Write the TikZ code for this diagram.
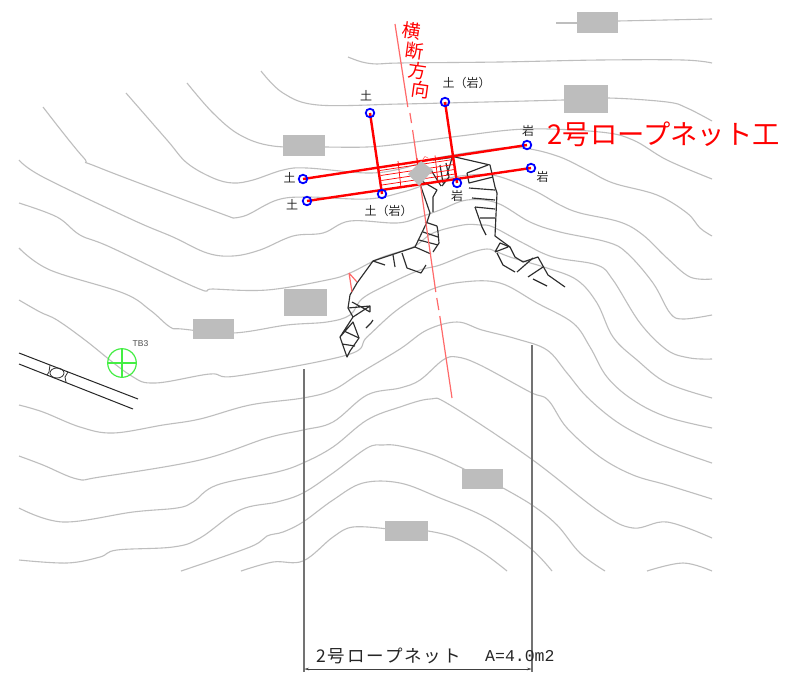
\documentclass[tikz,border=0pt]{standalone}
\usepackage{fontspec}
\newfontfamily\jp{Noto Sans CJK JP}
\newfontfamily\jpw[LetterSpace=11]{Noto Sans CJK JP}
\newfontfamily\monof{Liberation Mono}
\newfontfamily\sansf{Liberation Sans}
\usetikzlibrary{arrows.meta}
\definecolor{cont}{HTML}{BEBEBE}
\definecolor{boxg}{HTML}{BDBDBD}
\definecolor{secred}{HTML}{FF6A6A}
\definecolor{rock}{HTML}{2E2E2E}
\definecolor{tbgreen}{HTML}{44EE44}
\tikzset{
 contour/.style={draw=cont,line width=1.1pt},
 hut/.style={fill=boxg,draw=none},
 rope/.style={draw=red,line width=2.4pt},
 netfine/.style={draw=red,line width=0.7pt},
 ring/.style={circle,draw=blue,line width=1.8pt,minimum size=8.5pt,inner sep=0pt},
 secline/.style={draw=secred,line width=1.2pt},
 rockl/.style={draw=rock,line width=1.15pt,line join=round},
 smalljp/.style={font=\jp\fontsize{12}{12}\selectfont,text=black!85,inner sep=0pt},
 vert/.style={font=\jp\fontsize{18.5}{18.5}\selectfont,text=red,inner sep=0pt,rotate=-8},
 guide/.style={draw=black!55,line width=1.4pt},
}
\newcommand{\ctr}[1]{\draw[contour] plot[smooth,tension=0.6] coordinates {#1};}
\begin{document}
\begin{tikzpicture}[x=1pt,y=-1pt]
\useasboundingbox (0,0) rectangle (795,675);
\fill[white] (0,0) rectangle (795,675);
% contours
\draw[contour] (556,23) -- (577,23);
\draw[contour] (618,21) -- (712,19);
\ctr{(348,57)(362,62)(377,64)(400,63)(500,62)(600,60)(683,60)(712,63)}
\ctr{(261,71)(283,93)(318,105)(400,104)(445,103)(563,100)(608,98)(667,102)(687,108)(712,121)}
\ctr{(187,83)(213,113)(240,135)(273,146)(325,147)(367,147)(400,144)(460,136)(527,129)(600,132)(633,140)(667,160)(712,179)}
\ctr{(126,93)(167,140)(187,163)(213,178)(233,183)(253,180)(283,170)(307,168)(367,173)(400,169)(430,160)(453,155)(503,148)(530,149)(560,157)(587,170)(613,183)(657,195)(687,213)(700,228)(712,236)}
\draw[contour] plot[smooth,tension=0.6] coordinates {(43,107)(83,157)(100,168)(233,218)};
\ctr{(233,218)(247,215)(277,200)(307,197)(367,199)(403,192)(440,180)(470,175)(497,176)(533,190)(560,205)(580,213)(620,222)(643,235)(667,258)(690,277)(712,279)}
\ctr{(19,160)(43,177)(133,220)(173,237)(207,253)(233,256)(260,250)(293,236)(323,233)(350,221)(397,223)(420,217)(440,210)(467,200)(497,203)(530,222)(560,232)(607,242)(627,253)(653,283)(670,313)(683,319)(712,315)}
\ctr{(19,203)(57,217)(80,235)(110,247)(197,288)(213,289)(267,290)(327,280)(350,273)(380,258)(413,247)(433,233)(463,225)(480,225)(493,227)(523,243)(553,257)(597,265)(613,280)(640,323)(667,350)(690,358)(712,359)}
\ctr{(19,248)(50,270)(123,293)(150,310)(170,327)(182,329)(233,333)(287,325)(327,322)(350,315)(363,298)(393,282)(420,270)(440,265)(470,253)(487,249)(497,252)(513,258)(547,268)(577,280)(597,303)(613,337)(637,360)(667,383)(712,398)}
\ctr{(19,300)(40,312)(57,320)(85,340)(130,375)(155,383)(210,374)(237,376)(347,355)(367,337)(397,310)(430,290)(463,282)(500,283)(537,303)(573,323)(590,347)(607,377)(633,400)(667,417)(712,428)}
\ctr{(19,405)(43,412)(80,427)(113,433)(163,425)(200,419)(250,405)(303,398)(333,390)(360,373)(400,349)(427,330)(457,322)(482,330)(517,339)(547,350)(567,373)(587,397)(617,422)(650,440)(683,453)(712,463)}
\ctr{(19,456)(43,465)(77,479)(100,477)(200,460)(267,438)(303,430)(333,422)(367,395)(400,388)(420,380)(443,360)(457,357)(480,365)(530,392)(548,400)(567,428)(600,457)(633,475)(667,485)(712,499)}
\ctr{(19,508)(63,522)(133,512)(177,508)(193,502)(217,485)(277,472)(303,463)(333,447)(367,420)(400,407)(430,399)(450,405)(530,458)(600,512)(633,528)(667,522)(712,538)}
\ctr{(19,560)(67,563)(100,557)(117,550)(173,547)(200,538)(240,510)(277,502)(303,493)(333,473)(367,448)(383,445)(400,446)(433,455)(470,472)}
\ctr{(503,488)(532,505)(557,525)(580,553)(605,571)}
\ctr{(181,571)(250,547)(267,536)(283,532)(303,522)(333,500)(363,483)(400,483)(440,498)(487,518)(530,548)(552,571)}
\ctr{(241,571)(273,562)(303,561)(333,537)(353,527)(388,529)}
\ctr{(428,531)(453,537)(483,553)(507,571)}
\ctr{(647,571)(683,563)(712,571)}
% houses
\fill[hut] (283,135) rectangle (325,156);
\fill[hut] (193,319) rectangle (234,339);
\fill[hut] (284,289) rectangle (327,316);
\fill[hut] (564,85) rectangle (608,113);
\fill[hut] (577,12) rectangle (618,33);
\fill[hut] (462,469) rectangle (503,489);
\fill[hut] (385,521) rectangle (428,541);
% road
\draw[black!85,line width=1pt] (19,353) -- (138,399);
\draw[black!85,line width=1pt] (19,364) -- (133,409);
\draw[black!80,line width=0.8pt] (57,373) ellipse (7 and 5);
\draw[black!80,line width=0.8pt] (50,365) -- (49,372) -- (47,375);
\draw[black!80,line width=0.8pt] (68,372) -- (65,377) -- (66,382);
% TB3
\draw[tbgreen,line width=1.2pt] (122,363) circle (14.3);
\draw[tbgreen,line width=1.2pt] (107.7,363) -- (136.3,363) (122,348.7) -- (122,377.3);
\node[font=\sansf\fontsize{8.5}{8.5}\selectfont,text=black!70,inner sep=0pt] (tb) at (140.5,344) {TB3};
% rock outline
\begin{scope}[rockl]
\draw (427,222) -- (415,247) -- (373,261) -- (357,283) -- (350,295) -- (348,308) -- (353,317) -- (340,337) -- (347,357) -- (350,351) -- (359,338) -- (353,322) -- (340,337);
\draw (344,331) -- (359,338) (342,344) -- (355,346);
\draw (373,261) -- (385,265) (393,255) -- (395,267);
\draw (402,253) -- (407,268) -- (421,273) -- (426,265);
\draw (348,308) -- (370,306) -- (353,317) (352,302) -- (363,308) -- (370,312) (370,306) -- (370,312);
\draw (373,320) -- (371,323) -- (366,328);
\draw (425,222) -- (437,226) (423,232) -- (438,237) (419,240) -- (438,245) (415,247) -- (431,254);
\draw (437,226) -- (438,232) -- (439,243) -- (433,252);
\draw (427,222) -- (430,213) -- (420,184);
\draw (433,212) -- (433,197) -- (437,190) -- (420,180);
\draw (433,160) -- (455,157) -- (490,165) -- (495,187) -- (497,193) -- (495,236) -- (510,247) -- (515,257) -- (523,262) -- (538,257) -- (548,275) -- (565,287);
\draw (467,173) -- (469,183) -- (493,177) (467,173) -- (488,165);
\draw (469,188) -- (495,190) (472,198) -- (495,200) (475,207) -- (495,209) (480,218) -- (495,218);
\draw (475,207) -- (482,227) -- (486,235);
\draw (495,252) -- (500,243) -- (510,247) (495,252) -- (508,247);
\draw (497,253) -- (503,265) -- (515,272);
\draw (517,272) -- (533,258) (528,277) -- (543,267) (533,279) -- (547,286);
\draw (440,165) -- (443,183) (446,163) -- (449,177) -- (442,186) (452,158) -- (447,175) (431,170) -- (441,186);
\end{scope}
% section line
\draw[secline] (395,24) -- (407.8,107);
\draw[secline] (409.9,113) -- (411.5,123);
\draw[secline] (412.6,130) -- (435.8,292);
\draw[secline] (436.8,298) -- (438.8,310);
\draw[secline] (439.8,316) -- (452,398);
\draw[secline] (349,273) -- (357,282) (349,273) -- (352,292);
\draw[secline,line width=0.6pt] (423,159) -- (425,156.5) -- (428,158);
% net
\coordinate (a1) at (370,113);
\coordinate (a2) at (382,194);
\coordinate (b1) at (445,102);
\coordinate (b2) at (457,183);
\coordinate (c1) at (303,179);
\coordinate (c2) at (527,145);
\coordinate (d1) at (307,201);
\coordinate (d2) at (531,168);
\draw[netfine] (380,170.5) -- (453,159.5) (380.7,175.5) -- (453.7,164.5) (381.3,180.5) -- (454.5,169.5) (382,185) -- (455,174);
\draw[netfine] (398,161) -- (401,188) (417,158) -- (420,185) (435,155.5) -- (438,182);
\draw[rope] (a1) -- (a2);
\draw[rope] (b1) -- (b2);
\draw[rope] (c1) -- (c2);
\draw[rope] (d1) -- (d2);
\fill[boxg] (421,161) -- (433,170) -- (419,186) -- (408,174) -- cycle;
\foreach \p/\n in {a1/ra,a2/rb,b1/rc,b2/rd,c1/re,c2/rf,d1/rg,d2/rh}{\node[ring] (\n) at (\p) {};}
% labels
\node[smalljp] (l1) at (366,96) {土};
\node[smalljp] (l2) at (466.5,83) {土（岩）};
\node[smalljp] (l3) at (528,131) {岩};
\node[smalljp] (l4) at (542.5,177) {岩};
\node[smalljp] (l5) at (457,195.5) {岩};
\node[smalljp] (l6) at (289.5,178) {土};
\node[smalljp] (l7) at (292,205) {土};
\node[smalljp] (l8) at (388.5,211) {土（岩）};
\node[vert] (v1) at (412,31) {横};
\node[vert] (v2) at (415,51) {断};
\node[vert] (v3) at (418,71) {方};
\node[vert] (v4) at (421,90) {向};
\node[anchor=west,inner sep=0pt,text=red,font=\jp\fontsize{27.3}{27.3}\selectfont] (title) at (547.5,134) {2号ロープネット工};
% guides
\coordinate (g1) at (304,369);
\coordinate (g2) at (532,345);
\coordinate (g3) at (304,672);
\coordinate (g4) at (532,672);
\draw[guide] (g1) -- (g3);
\draw[guide] (g2) -- (g4);
\coordinate (m1) at (304,669);
\coordinate (m2) at (532,669);
\draw[black!75,line width=0.9pt,{Stealth[length=5pt,width=2.5pt]}-{Stealth[length=5pt,width=2.5pt]}] (m1) -- (m2);
\node[anchor=west,inner sep=0pt,font=\jpw\fontsize{17.5}{17.5}\selectfont,text=black!85] (d1t) at (316,656) {2号ロープネット};
\node[anchor=west,inner sep=0pt,font=\monof\fontsize{16.5}{16.5}\selectfont,text=black!85] (d2t) at (485,656) {A=4.0m2};
\end{tikzpicture}
\end{document}
